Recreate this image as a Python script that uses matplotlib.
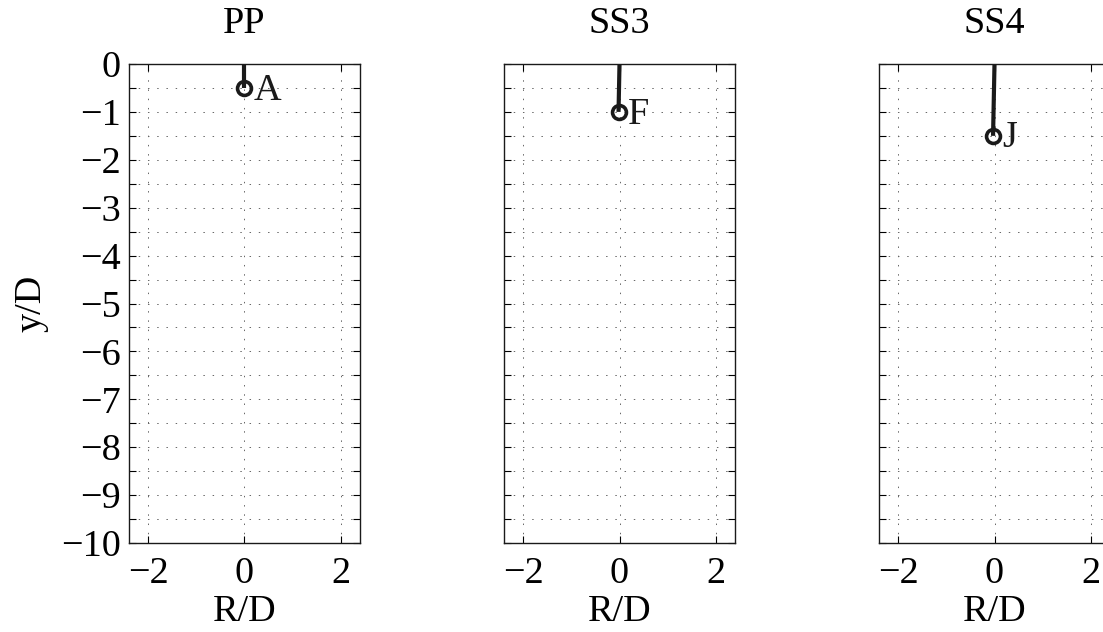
import numpy as np
import matplotlib
matplotlib.use('Agg')
import matplotlib.pyplot as plt
from matplotlib.ticker import FuncFormatter

plt.rcParams['font.family'] = ['Liberation Serif', 'DejaVu Serif']

# 数据
panel_titles = ['PP', 'SS3', 'SS4']
point_labels = ['A', 'F', 'J']
start_x = [0.0, 0.0, 0.0]
start_y = [0.0, 0.0, 0.0]
end_x = [0.0, -0.02, -0.03]
end_y = [-0.5, -1.0, -1.5]
x_ticks = [-2, 0, 2]
y_ticks = np.arange(-10, 0.01, 0.5)

W, H = 1103, 632
fig = plt.figure(figsize=(W / 100, H / 100), dpi=100)

fs = 27.5
lefts = [129, 504, 879]
for i, left in enumerate(lefts):
    ax = fig.add_axes([left / W, 89 / H, 231 / W, 479 / H])
    ax.plot([start_x[i], end_x[i]], [start_y[i], end_y[i]], color='#1a1a1a', lw=3,
            solid_capstyle='butt', zorder=3)
    ax.plot(end_x[i], end_y[i], 'o', ms=10, mfc='none', mec='#1a1a1a', mew=2.6, zorder=4)
    ax.text(end_x[i] + 0.2, end_y[i] - 0.05, point_labels[i], fontsize=fs,
            ha='left', va='center', color='#1a1a1a')

    ax.set_xlim(-2.4, 2.4)
    ax.set_ylim(-10, 0)
    ax.set_xticks(x_ticks)
    ax.set_yticks(y_ticks)
    ax.grid(True, color='#666666', linestyle=(0, (1.5, 8)), lw=0.7)
    ax.tick_params(direction='in', top=True, right=True, length=5, width=0.8,
                   labelsize=fs, pad=6)
    ax.tick_params(axis='x', pad=10)
    ax.xaxis.set_major_formatter(FuncFormatter(lambda v, p: f'{v:.0f}'.replace('-', '\u2212')))
    if i == 0:
        ax.yaxis.set_major_formatter(FuncFormatter(
            lambda v, p: (f'{v:.0f}'.replace('-', '\u2212') if abs(v - round(v)) < 1e-9 else '')))
        ax.set_ylabel('y/D', fontsize=fs, labelpad=9)
    else:
        ax.set_yticklabels([])
    for s in ax.spines.values():
        s.set_linewidth(1.0)
        s.set_color('#1a1a1a')
    ax.set_xlabel('R/D', fontsize=fs, labelpad=2)
    ax.set_title(panel_titles[i], fontsize=fs, pad=22)

fig.savefig('out.png', dpi=100)
